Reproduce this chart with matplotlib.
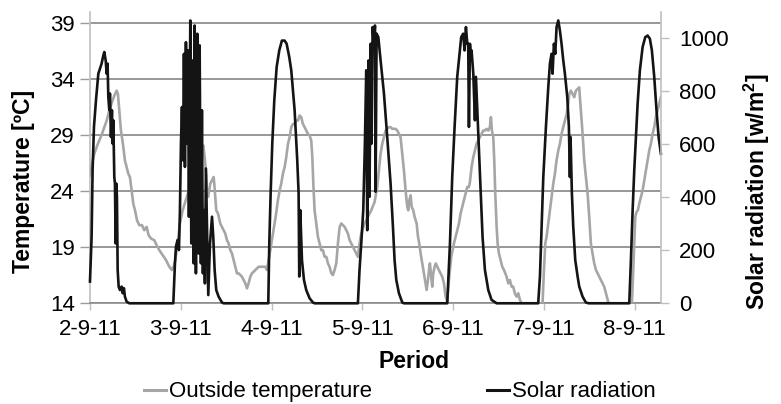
import matplotlib
matplotlib.use("Agg")
import matplotlib.pyplot as plt
from matplotlib.lines import Line2D

plt.rcParams['font.family'] = ['Liberation Sans', 'DejaVu Sans']
plt.rcParams['mathtext.fontset'] = 'custom'
plt.rcParams['mathtext.rm'] = 'Liberation Sans'
plt.rcParams['mathtext.bf'] = 'Liberation Sans:bold'

# ---------------- data (x in days since 2-9-11) ----------------
date_labels = ["2-9-11", "3-9-11", "4-9-11", "5-9-11", "6-9-11", "7-9-11", "8-9-11"]

solar_day = [
    0.000, 0.018, 0.029, 0.044, 0.066, 0.092, 0.110, 0.128, 0.147, 0.158, 0.173, 0.184, 0.194,
    0.202, 0.213, 0.220, 0.231, 0.242, 0.250, 0.257, 0.268, 0.275, 0.283, 0.290, 0.297, 0.305,
    0.316, 0.330, 0.349, 0.360, 0.374, 0.385, 0.404, 0.433,
    0.918, 0.936, 0.947, 0.965, 0.980, 0.991, 1.002, 1.013, 1.024, 1.035, 1.046, 1.057, 1.068,
    1.079, 1.090, 1.105, 1.116, 1.131, 1.142, 1.153, 1.167, 1.182, 1.197, 1.208, 1.222, 1.233,
    1.244, 1.255, 1.266, 1.277, 1.292, 1.303, 1.322, 1.344, 1.358, 1.373, 1.391, 1.417, 1.454, 1.472,
    1.946, 1.964, 1.975, 1.990, 2.008, 2.030, 2.056, 2.085, 2.114, 2.144, 2.166, 2.195, 2.217,
    2.254, 2.283, 2.298, 2.305, 2.316, 2.335, 2.357, 2.382, 2.419, 2.456, 2.474,
    2.937, 2.951, 2.969, 2.988, 3.010, 3.028, 3.043, 3.054, 3.068, 3.079, 3.091, 3.102, 3.113,
    3.128, 3.139, 3.146, 3.157, 3.176, 3.201, 3.238, 3.274, 3.311, 3.337, 3.355, 3.374, 3.403, 3.440, 3.458,
    3.917, 3.935, 3.965, 3.990, 4.016, 4.045, 4.071, 4.089, 4.111, 4.126, 4.141, 4.156, 4.166,
    4.174, 4.185, 4.199, 4.203, 4.222, 4.240, 4.251, 4.266, 4.295, 4.324, 4.350, 4.387, 4.423, 4.479,
    4.919, 4.937, 4.956, 4.974, 4.993, 5.022, 5.048, 5.066, 5.084, 5.095, 5.110, 5.125, 5.139,
    5.158, 5.176, 5.194, 5.213, 5.231, 5.257, 5.275, 5.286, 5.293, 5.308, 5.323, 5.345, 5.371,
    5.389, 5.426, 5.462, 5.492,
    5.921, 5.940, 5.958, 5.977, 5.995, 6.013, 6.032, 6.057, 6.087, 6.116, 6.142, 6.167, 6.189,
    6.215, 6.240, 6.263, 6.288,
]
solar_wm2 = [
    82, 251, 503, 666, 766, 867, 886, 905, 936, 949, 917, 867, 905,
    779, 729, 792, 628, 729, 603, 691, 477, 452, 226, 452, 402, 126,
    63, 50, 63, 38, 57, 25, 6, 0,
    0, 151, 214, 239, 201, 352, 603, 741, 540, 942, 515, 986, 603,
    955, 327, 1068, 226, 917, 151, 1049, 113, 1018, 188, 974, 151, 729,
    113, 352, 75, 509, 226, 31, 226, 327, 251, 126, 50, 25, 3, 0,
    0, 0, 226, 415, 603, 766, 892, 955, 992, 992, 980, 930, 880,
    729, 540, 415, 101, 352, 163, 88, 50, 19, 3, 0,
    0, 0, 126, 226, 352, 603, 880, 276, 917, 402, 980, 603, 1043,
    980, 1049, 421, 1018, 1005, 917, 792, 628, 452, 289, 163, 88, 38, 3, 0,
    0, 0, 226, 477, 666, 855, 942, 1005, 1018, 955, 1043, 980, 980,
    666, 980, 917, 955, 867, 691, 855, 729, 477, 251, 126, 50, 13, 0,
    0, 0, 101, 289, 477, 666, 817, 905, 942, 867, 980, 942, 1043,
    1068, 1030, 980, 917, 867, 779, 666, 477, 628, 415, 289, 163, 101,
    63, 25, 3, 0,
    0, 0, 163, 352, 503, 628, 754, 880, 968, 1005, 1011, 999, 955,
    855, 729, 628, 565,
]

temp_day = [
    0.000, 0.022, 0.048, 0.073, 0.103, 0.132, 0.158, 0.184, 0.213, 0.242, 0.268, 0.294, 0.308,
    0.323, 0.341, 0.363, 0.385, 0.404, 0.422, 0.440, 0.459, 0.477, 0.496, 0.518, 0.543, 0.573,
    0.598, 0.624, 0.646, 0.672, 0.708, 0.734, 0.764, 0.800, 0.837, 0.874, 0.903, 0.921, 0.940,
    0.965, 0.991, 1.021, 1.050,
    1.083, 1.120, 1.156, 1.193, 1.219, 1.234, 1.248, 1.263, 1.270, 1.281, 1.288, 1.300, 1.314,
    1.325, 1.344, 1.362, 1.369, 1.380, 1.391, 1.410, 1.435, 1.454, 1.472, 1.490, 1.509, 1.527,
    1.546, 1.564, 1.582, 1.601, 1.619, 1.637, 1.674, 1.711, 1.729, 1.747, 1.766, 1.784, 1.821,
    1.858, 1.894, 1.931, 1.949, 1.968, 1.986, 2.004, 2.023, 2.045,
    2.070, 2.089, 2.107, 2.125, 2.144, 2.162, 2.181, 2.199, 2.217, 2.236, 2.254, 2.272, 2.291,
    2.309, 2.327, 2.345, 2.364, 2.382, 2.401, 2.419, 2.437, 2.449, 2.460, 2.474, 2.493, 2.511,
    2.529, 2.548, 2.566, 2.584, 2.603, 2.621, 2.639, 2.658, 2.676, 2.694, 2.713, 2.731, 2.750,
    2.768, 2.786, 2.805, 2.823, 2.841, 2.860, 2.878, 2.896, 2.915, 2.933, 2.951, 2.969, 2.988,
    3.024, 3.061, 3.098,
    3.135, 3.164, 3.183, 3.201, 3.219, 3.238, 3.256, 3.274, 3.293, 3.311, 3.330, 3.348, 3.366,
    3.385, 3.403, 3.421, 3.440, 3.458, 3.476, 3.495, 3.506, 3.517, 3.532, 3.543, 3.561, 3.576,
    3.598, 3.613, 3.627, 3.642, 3.660, 3.679, 3.697, 3.708, 3.723, 3.734, 3.744, 3.759, 3.770,
    3.781, 3.796, 3.810, 3.825, 3.843, 3.862, 3.880, 3.899, 3.917, 3.935, 3.950, 3.965, 3.979,
    3.994, 4.009, 4.027, 4.045, 4.064, 4.082, 4.100, 4.119, 4.137, 4.156,
    4.174, 4.185, 4.203, 4.222, 4.240, 4.258, 4.277, 4.295, 4.313, 4.332, 4.350, 4.368, 4.387,
    4.405, 4.416, 4.427, 4.442, 4.453, 4.464, 4.479, 4.490, 4.504, 4.523, 4.541, 4.560, 4.574,
    4.589, 4.607, 4.625, 4.644, 4.662, 4.680, 4.699, 4.717, 4.736, 4.754, 4.870,
    4.985, 5.000, 5.015, 5.029, 5.048, 5.066, 5.084, 5.103, 5.121, 5.139, 5.158, 5.176, 5.194,
    5.213, 5.231, 5.250, 5.268, 5.279, 5.297, 5.316, 5.334, 5.352, 5.371, 5.389, 5.396, 5.407,
    5.418, 5.433, 5.444, 5.462, 5.481, 5.499, 5.517, 5.536, 5.554, 5.573, 5.591, 5.609, 5.627,
    5.646, 5.664, 5.683, 5.701, 5.712, 5.850,
    5.969, 5.984, 5.995, 6.006, 6.020, 6.035, 6.050, 6.068, 6.087, 6.105, 6.123, 6.142, 6.160,
    6.178, 6.197, 6.215, 6.233, 6.252, 6.270, 6.288,
]
temp_c = [
    25.42, 26.46, 27.35, 27.94, 28.53, 29.12, 29.72, 30.31, 31.20, 31.94, 32.53, 32.98, 32.68,
    31.20, 29.42, 28.23, 26.75, 26.16, 25.57, 25.27, 24.08, 22.90, 22.30, 21.41, 20.97, 20.97,
    20.52, 20.82, 20.08, 19.78, 19.63, 19.19, 18.74, 18.30, 17.86, 17.26, 16.97, 17.26, 17.86,
    19.34, 21.12, 22.30, 23.05,
    23.93, 24.38, 25.27, 26.16, 27.05, 27.79, 28.09, 27.05, 26.46, 25.27, 24.08, 23.49, 24.08,
    24.68, 24.97, 25.27, 24.68, 23.49, 22.30, 22.01, 21.12, 20.82, 20.52, 20.23, 19.63, 19.34,
    18.74, 18.45, 17.86, 17.26, 16.67, 16.67, 16.37, 15.78, 15.33, 15.78, 16.37, 16.67, 16.97,
    17.26, 17.26, 17.26, 16.97, 17.86, 18.74, 19.63, 20.52, 21.71,
    23.19, 24.08, 24.68, 25.57, 26.16, 27.05, 28.23, 28.83, 29.72, 30.01, 30.01, 30.31, 30.31,
    30.76, 30.61, 30.01, 29.72, 29.42, 29.12, 28.98, 28.53, 27.05, 24.68, 22.30, 21.12, 19.93,
    19.34, 18.74, 18.74, 18.15, 18.15, 17.56, 17.26, 16.67, 16.52, 16.97, 17.56, 19.34, 20.82,
    21.12, 20.97, 20.82, 20.52, 20.23, 19.63, 19.34, 19.04, 18.74, 18.45, 18.15, 19.34, 20.23,
    21.12, 21.71, 22.30,
    23.05, 24.38, 25.86, 27.35, 28.23, 28.83, 29.42, 29.57, 29.72, 29.72, 29.57, 29.57, 29.57,
    29.42, 29.12, 28.83, 27.35, 25.86, 24.08, 22.60, 22.30, 23.19, 23.64, 22.60, 22.30, 21.71,
    21.12, 19.93, 19.34, 18.45, 17.56, 16.67, 15.78, 15.19, 16.08, 16.97, 17.56, 16.37, 15.48,
    16.67, 17.26, 17.56, 17.26, 16.97, 16.67, 16.37, 15.78, 14.59, 14.15, 15.78, 16.97, 18.15,
    18.74, 19.34, 19.93, 20.52, 21.12, 22.01, 22.60, 23.19, 23.79, 24.38,
    24.38, 24.82, 26.16, 27.05, 27.64, 28.23, 28.53, 28.83, 29.12, 29.42, 29.42, 29.57, 29.42,
    29.72, 30.61, 29.42, 28.83, 26.75, 23.79, 20.82, 19.34, 18.45, 17.86, 17.26, 16.97, 16.67,
    16.37, 15.78, 16.08, 15.48, 15.48, 14.89, 14.59, 14.89, 14.30, 14.00, 14.00,
    14.00, 16.97, 19.34, 19.93, 21.12, 22.30, 23.49, 24.68, 25.57, 26.75, 27.64, 28.23, 29.12,
    29.72, 30.31, 30.90, 31.79, 32.68, 32.98, 32.68, 32.39, 32.98, 33.13, 33.27, 32.39, 31.20,
    30.01, 28.23, 26.75, 25.27, 23.79, 21.71, 19.34, 18.45, 17.56, 16.97, 16.67, 16.37, 16.08,
    15.78, 15.48, 14.89, 14.30, 14.00, 14.00,
    14.00, 16.97, 19.34, 21.71, 22.16, 22.30, 22.90, 23.49, 24.08, 24.97, 25.86, 26.75, 27.64,
    28.23, 29.12, 29.72, 30.61, 31.20, 31.79, 32.39,
]

temp_ticks = [14, 19, 24, 29, 34, 39]
solar_ticks = [0, 200, 400, 600, 800, 1000]

# ---------------- figure ----------------
fig = plt.figure(figsize=(7.81, 4.04), dpi=100)
ax = fig.add_axes([0.1152, 0.2493, 0.7311, 0.7210])

GRAY_LINE = '#a6a6a6'
BLACK_LINE = '#141414'
AX_LIGHT = '#bfbfbf'

ax.plot(temp_day, temp_c, color=GRAY_LINE, lw=1.9, zorder=3, solid_joinstyle='round')
ax.set_ylim(14, 40)
ax.set_yticks(temp_ticks)
ax.set_xlim(0, 6.289)
ax.set_xticks(range(len(date_labels)))
ax.set_xticklabels(date_labels)
ax.set_axisbelow(True)
ax.yaxis.grid(True, color='#868686', lw=1.2)
ax.xaxis.grid(False)

ax2 = ax.twinx()
ax2.plot(solar_day, solar_wm2, color=BLACK_LINE, lw=1.9, clip_on=False, solid_joinstyle='round')
ax2.set_ylim(0, 1100)
ax2.set_yticks(solar_ticks)

for s in ['top', 'right']:
    ax.spines[s].set_visible(False)
for s in ['top', 'left', 'bottom']:
    ax2.spines[s].set_visible(False)
ax.spines['left'].set_color(AX_LIGHT)
ax.spines['bottom'].set_color('#8c8c8c')
ax2.spines['right'].set_color(AX_LIGHT)
ax.spines['left'].set_linewidth(1.2)
ax.spines['bottom'].set_linewidth(1.2)
ax2.spines['right'].set_linewidth(1.2)

ax.tick_params(axis='y', length=7, width=1, color='#9a9a9a', pad=4, labelsize=16)
ax.tick_params(axis='x', length=5, width=1, color=AX_LIGHT, pad=6, labelsize=16)
ax2.tick_params(axis='y', length=6, width=1, color=AX_LIGHT, pad=7, labelsize=16)

fig.text(0.0307, 0.552, 'Temperature [ºC]', rotation=90, ha='center', va='center',
         fontsize=16.5, fontweight='bold')
fig.text(0.969, 0.525, r'Solar radiation [w/m$^\mathbf{2}$]', rotation=90, ha='center',
         va='center', fontsize=16.5, fontweight='bold')
fig.text(0.5295, 0.1064, 'Period', ha='center', va='center', fontsize=16.5, fontweight='bold')

handles = [Line2D([], [], color=GRAY_LINE, lw=2.2), Line2D([], [], color=BLACK_LINE, lw=2.2)]
fig.legend(handles, ['Outside temperature', 'Solar radiation'], loc='center',
           bbox_to_anchor=(0.512, 0.03), ncol=2, frameon=False, fontsize=16,
           handlelength=1.0, handletextpad=0.1, columnspacing=5.2, borderaxespad=0,
           borderpad=0)

fig.savefig('out.png', dpi=100)
